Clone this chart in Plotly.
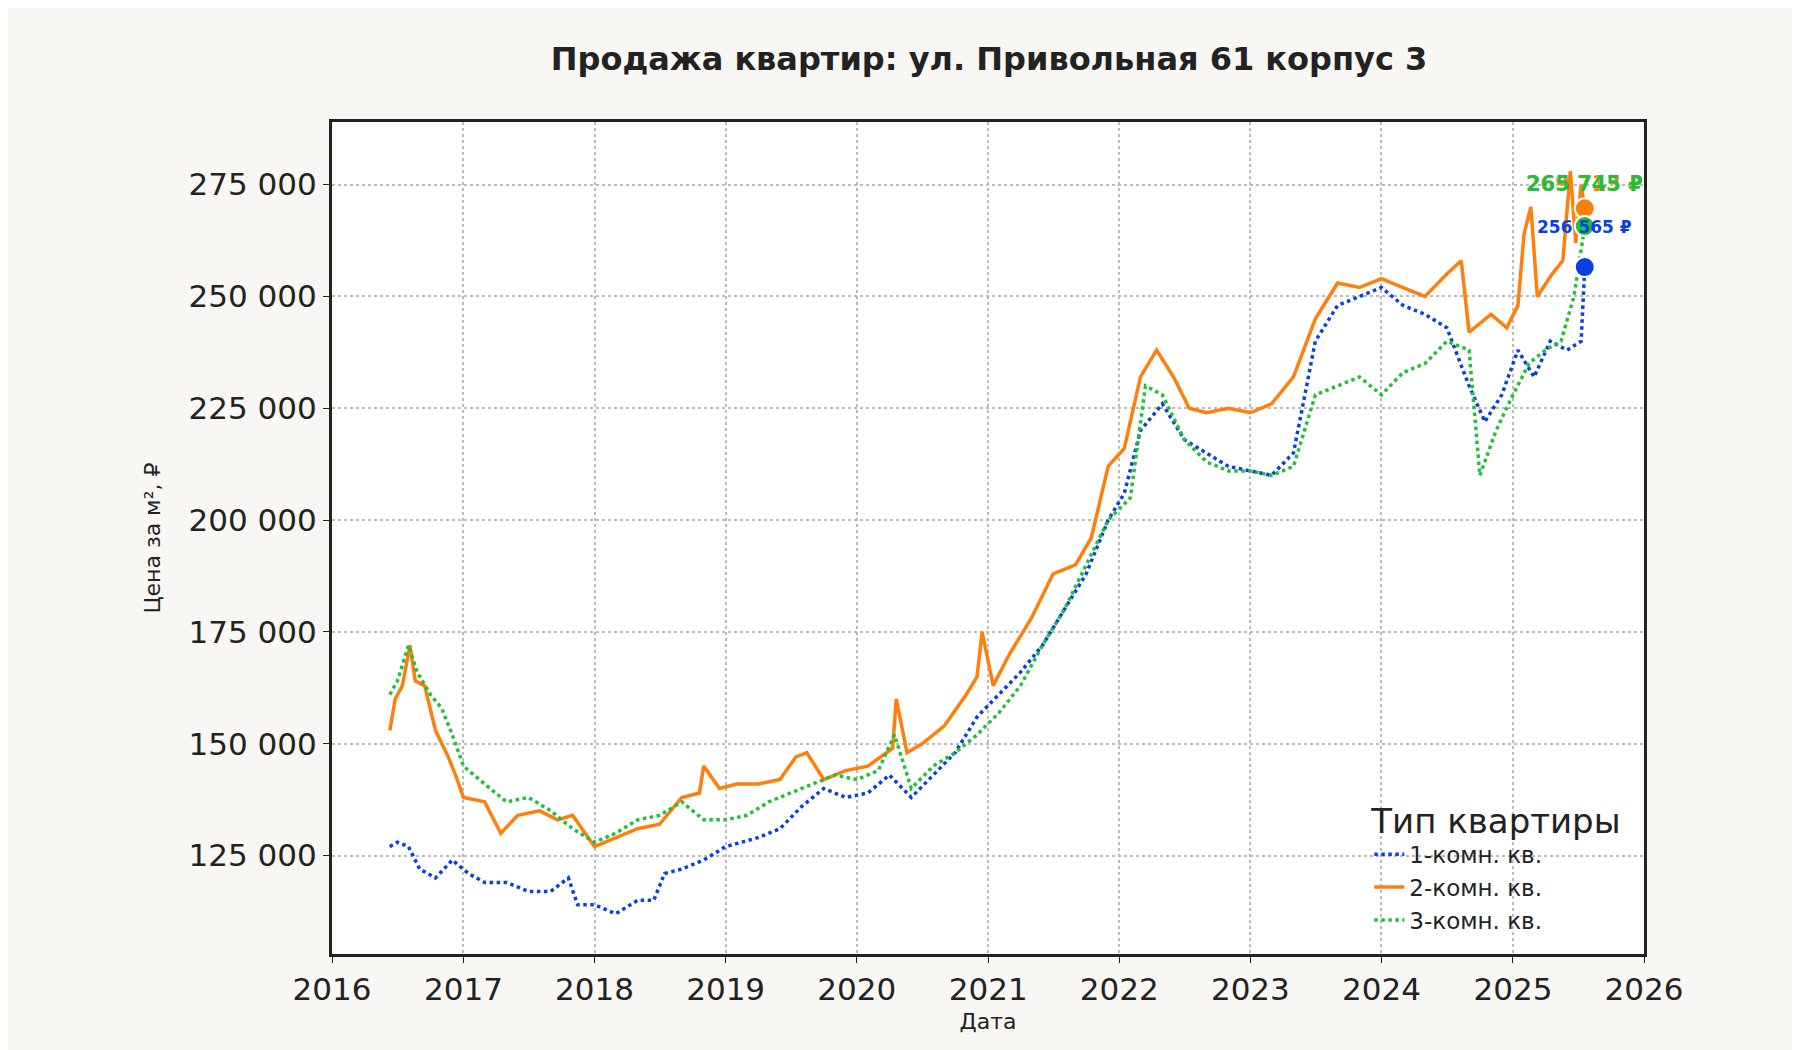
import plotly.graph_objects as go

d1 = ["2016-06-10","2016-07-01","2016-08-01","2016-09-01","2016-10-15","2016-12-01","2017-01-15","2017-03-01","2017-05-01","2017-07-01","2017-09-01","2017-10-20","2017-11-15","2018-01-01","2018-03-01","2018-05-01","2018-06-15","2018-07-15","2018-09-01","2018-11-01","2019-01-01","2019-04-01","2019-06-01","2019-08-01","2019-10-01","2019-12-01","2020-02-01","2020-04-01","2020-06-01","2020-08-01","2020-10-01","2020-12-01","2021-02-01","2021-04-01","2021-06-01","2021-08-01","2021-10-01","2021-12-01","2022-01-15","2022-03-01","2022-05-01","2022-07-01","2022-09-01","2022-11-01","2023-01-01","2023-03-01","2023-05-01","2023-07-01","2023-09-01","2023-11-01","2024-01-01","2024-03-01","2024-05-01","2024-07-01","2024-09-01","2024-10-15","2024-12-01","2025-01-15","2025-03-01","2025-04-15","2025-06-01","2025-07-10","2025-07-20"]
v1 = [127000,128000,127000,122000,120000,124000,121000,119000,119000,117000,117000,120000,114000,114000,112000,115000,115000,121000,122000,124000,127000,129000,131000,136000,140000,138000,139000,143000,138000,143000,148000,156000,161000,166000,172000,180000,188000,200000,206000,220000,226000,218000,215000,212000,211000,210000,215000,240000,248000,250000,252000,248000,246000,243000,230000,222000,228000,238000,232000,240000,238000,240000,256565]

d2 = ["2016-06-10","2016-06-25","2016-07-15","2016-08-05","2016-08-20","2016-09-15","2016-10-15","2016-11-20","2016-12-10","2017-01-01","2017-03-01","2017-04-15","2017-06-01","2017-08-01","2017-09-20","2017-11-01","2018-01-01","2018-03-01","2018-05-01","2018-07-01","2018-09-01","2018-10-20","2018-11-01","2018-12-15","2019-02-01","2019-04-01","2019-06-01","2019-07-15","2019-08-15","2019-10-01","2019-12-01","2020-02-01","2020-04-10","2020-04-20","2020-05-20","2020-07-01","2020-09-01","2020-11-01","2020-12-01","2020-12-15","2021-01-15","2021-03-01","2021-05-01","2021-07-01","2021-09-01","2021-10-15","2021-12-01","2022-01-15","2022-03-01","2022-04-15","2022-06-01","2022-07-15","2022-09-01","2022-11-01","2023-01-01","2023-03-01","2023-05-01","2023-07-01","2023-09-01","2023-11-01","2024-01-01","2024-03-01","2024-05-01","2024-07-01","2024-08-10","2024-09-01","2024-11-01","2024-12-15","2025-01-15","2025-02-01","2025-02-20","2025-03-10","2025-04-20","2025-05-20","2025-06-10","2025-06-25","2025-07-10","2025-07-20"]
v2 = [153000,160000,163000,172000,164000,163000,153000,147000,143000,138000,137000,130000,134000,135000,133000,134000,127000,129000,131000,132000,138000,139000,145000,140000,141000,141000,142000,147000,148000,142000,144000,145000,149000,160000,148000,150000,154000,161000,165000,175000,163000,170000,178000,188000,190000,196000,212000,216000,232000,238000,232000,225000,224000,225000,224000,226000,232000,245000,253000,252000,254000,252000,250000,255000,258000,242000,246000,243000,248000,264000,270000,250000,255000,258000,278000,262000,275000,269713]

d3 = ["2016-06-10","2016-07-01","2016-08-01","2016-08-25","2016-10-01","2016-11-01","2016-12-01","2017-01-01","2017-03-01","2017-05-01","2017-07-01","2017-09-01","2017-11-01","2018-01-01","2018-03-01","2018-05-01","2018-07-01","2018-09-01","2018-11-01","2019-01-01","2019-03-01","2019-05-01","2019-07-01","2019-09-01","2019-11-01","2020-01-01","2020-03-01","2020-04-15","2020-06-01","2020-08-01","2020-10-01","2020-12-01","2021-02-01","2021-04-01","2021-06-01","2021-08-01","2021-10-01","2021-12-01","2022-02-01","2022-03-15","2022-05-01","2022-07-01","2022-09-01","2022-11-01","2023-01-01","2023-03-01","2023-05-01","2023-07-01","2023-09-01","2023-11-01","2024-01-01","2024-03-01","2024-05-01","2024-07-01","2024-09-01","2024-10-01","2024-11-15","2025-01-01","2025-02-15","2025-04-01","2025-05-15","2025-06-20","2025-07-20"]
v3 = [161000,164000,172000,166000,161000,158000,152000,145000,141000,137000,138000,135000,131000,128000,130000,133000,134000,137000,133000,133000,134000,137000,139000,141000,143000,142000,144000,152000,140000,145000,148000,152000,157000,163000,172000,180000,190000,200000,205000,230000,228000,218000,213000,211000,211000,210000,212000,228000,230000,232000,228000,233000,235000,240000,238000,210000,220000,228000,235000,238000,240000,250000,265745]

names = ["1-комн. кв.", "2-комн. кв.", "3-комн. кв."]
colors = ["#0a3fe0", "#ff7f0e", "#22c03a"]
labels = ["256 565 ₽", "269 713 ₽", "265 745 ₽"]

fig = go.Figure()
series = [(d1, v1, "dot"), (d2, v2, "solid"), (d3, v3, "dot")]
for (d, v, dash), n, c in zip(series, names, colors):
    fig.add_trace(go.Scatter(x=d, y=v, mode="lines", name=n,
                             line=dict(color=c, width=3.5, dash=dash)))
for i in [0, 1, 2]:
    d, v, _ = series[i]
    fig.add_trace(go.Scatter(x=[d[-1]], y=[v[-1]], mode="markers", showlegend=False,
                             marker=dict(color=colors[i], size=20, line=dict(color="white", width=2))))
fig.add_annotation(x=d1[-1], y=v1[-1], text="<b>" + labels[0] + "</b>", showarrow=False,
                   yshift=40, font=dict(color=colors[0], size=17))
fig.add_annotation(x=d2[-1], y=v2[-1], text="<b>" + labels[1] + "</b>", showarrow=False,
                   yshift=24, font=dict(color=colors[1], size=21))
fig.add_annotation(x=d3[-1], y=v3[-1], text="<b>" + labels[2] + "</b>", showarrow=False,
                   yshift=42, font=dict(color=colors[2], size=21))

fig.update_layout(
    width=1800, height=1050,
    paper_bgcolor="#f8f7f3", plot_bgcolor="white",
    font=dict(family="DejaVu Sans", color="#222"),
    title=dict(text="<b>Продажа квартир: ул. Привольная 61 корпус 3</b>", x=0.545, y=0.962,
               xanchor="center", font=dict(size=32, color="#222")),
    margin=dict(l=324, r=164, t=114, b=104),
    legend=dict(title=dict(text="Тип квартиры", font=dict(size=34)), x=0.985, y=0.015,
                xanchor="right", yanchor="bottom", bgcolor="rgba(255,255,255,0)",
                font=dict(size=23)),
    showlegend=True,
)
fig.update_xaxes(range=["2016-01-01", "2026-01-01"], dtick="M12", tickformat="%Y",
                 showgrid=True, gridcolor="#bbb", griddash="dot", gridwidth=2,
                 showline=True, linecolor="#222", linewidth=3, mirror=True,
                 ticks="outside", ticklen=6, tickcolor="#222",
                 tickfont=dict(size=31), title=dict(text="Дата", font=dict(size=22), standoff=8))
fig.update_yaxes(range=[103000, 289000], tickvals=[125000, 150000, 175000, 200000, 225000, 250000, 275000],
                 ticktext=["125 000", "150 000", "175 000", "200 000", "225 000", "250 000", "275 000"],
                 showgrid=True, gridcolor="#bbb", griddash="dot", gridwidth=2,
                 showline=True, linecolor="#222", linewidth=3, mirror=True,
                 ticks="outside", ticklen=6, tickcolor="#222",
                 tickfont=dict(size=31), title=dict(text="Цена за м², ₽", font=dict(size=22), standoff=22))
fig.write_html("out.html")
